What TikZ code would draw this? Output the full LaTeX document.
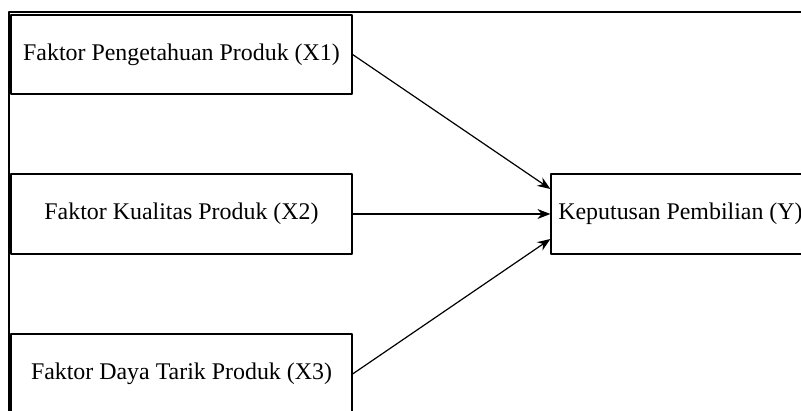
\documentclass[tikz,border=0pt]{standalone}
\usepackage{fontspec}
\setmainfont{Liberation Serif}
\usetikzlibrary{arrows.meta}
\tikzset{kotak/.style={draw, line width=1.2pt, minimum width=341pt, minimum height=80pt, inner sep=0pt},
	panah/.style={->, line width=1.2pt}}
\begin{document}
\begin{tikzpicture}[x=1pt, y=1pt, >={Stealth[length=13pt,width=10pt]}, font=\fontsize{23.9}{28}\selectfont, line join=round]
	\useasboundingbox (0,0) rectangle (801,410);
	\clip (0,0) rectangle (801,410);
	%bingkai luar
	\draw[line width=2pt] (9,-20) rectangle (830,398);
	%variabel bebas
	\node[kotak, minimum height=79pt] (x1) at (181.5,355.5) {Faktor Pengetahuan Produk (X1)};
	\node[kotak] (x2) at (181.5,196) {Faktor Kualitas Produk (X2)};
	\node[kotak] (x3) at (181.5,36) {Faktor Daya Tarik Produk (X3)};
	%variabel terikat
	\node[kotak, minimum width=259pt] (y) at (680.5,196) {Keputusan Pembilian (Y)};
	\draw[panah] (x1.east) -- ([yshift=25pt]y.west);
	\draw[panah] (x2.east) -- (y.west);
	\draw[panah] (x3.east) -- ([yshift=-25pt]y.west);
\end{tikzpicture}
\end{document}
